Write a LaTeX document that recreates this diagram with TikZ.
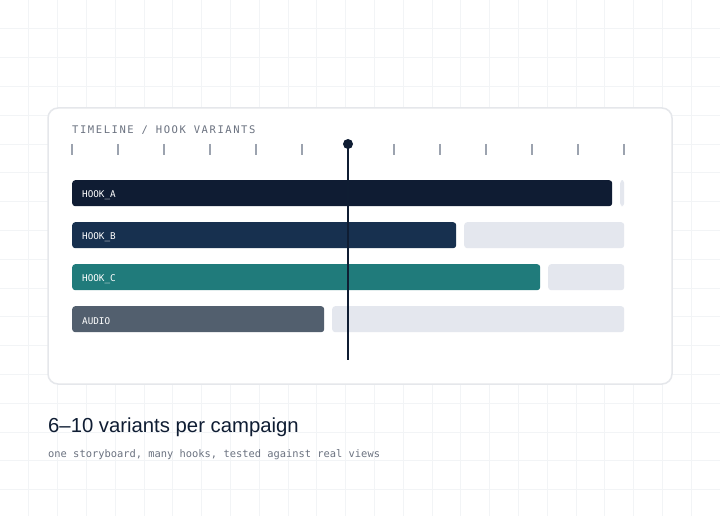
\documentclass[tikz,border=0pt]{standalone}
\usepackage{fontspec}
\setmainfont{Liberation Sans}
\newfontfamily\monofont{DejaVu Sans Mono}
\newfontfamily\trackfont[LetterSpace=15]{DejaVu Sans Mono}

\definecolor{ink}{HTML}{0F1D33}
\definecolor{hooka}{HTML}{0F1C33}
\definecolor{hookb}{HTML}{17304F}
\definecolor{hookc}{HTML}{207B7B}
\definecolor{audio}{HTML}{525F6E}
\definecolor{rest}{HTML}{E4E7EE}
\definecolor{cardline}{HTML}{E5E7EB}
\definecolor{gridc}{HTML}{F2F4F6}
\definecolor{tick}{HTML}{9CA3AF}
\definecolor{muted}{HTML}{6B7280}

\tikzset{
    bar/.style={rounded corners=3pt, minimum height=26pt, inner sep=0pt, anchor=north west},
    track/.style={bar, fill=rest},
    barlabel/.style={right, inner sep=0pt, text=white, font=\monofont\fontsize{9.3}{10}\selectfont}
}

\begin{document}
\begin{tikzpicture}[x=1pt, y=-1pt]

    \useasboundingbox [fill=white] (0,0) rectangle (720,516);

    % grid
    \foreach \g in {1,...,25} \draw [gridc, line width=0.8pt] (\g*28.8,0) -- (\g*28.8,516);
    \foreach \g in {1,...,17} \draw [gridc, line width=0.8pt] (0,\g*28.8) -- (720,\g*28.8);

    % card
    \draw [cardline, fill=white, line width=1.5pt, rounded corners=10pt] (48,108) rectangle (672,384);

    \node [anchor=base west, inner sep=0pt, text=muted, font=\trackfont\fontsize{10.5}{12}\selectfont] (title) at (72,133.5) {TIMELINE / HOOK VARIANTS};

    \foreach \x in {72,118,164,210,256,302,394,440,486,532,578,624}
        \draw [tick, line width=1.2pt] (\x,144) -- (\x,155);

    % bars
    \node [bar, fill=hooka, minimum width=540pt] (hA) at (72,180) {};
    \node [track, minimum width=4pt] (rA) at (620,180) {};
    \node [barlabel] at ([xshift=10pt, yshift=-1.5pt]hA.west) {HOOK\_A};

    \node [bar, fill=hookb, minimum width=384pt] (hB) at (72,222) {};
    \node [track, minimum width=160pt] (rB) at (464,222) {};
    \node [barlabel] at ([xshift=10pt, yshift=-1.5pt]hB.west) {HOOK\_B};

    \node [bar, fill=hookc, minimum width=468pt] (hC) at (72,264) {};
    \node [track, minimum width=76pt] (rC) at (548,264) {};
    \node [barlabel] at ([xshift=10pt, yshift=-1.5pt]hC.west) {HOOK\_C};

    \node [bar, fill=audio, minimum width=252pt] (au) at (72,306) {};
    \node [track, minimum width=292pt] (rD) at (332,306) {};
    \node [barlabel] at ([xshift=10pt, yshift=-1.5pt]au.west) {AUDIO};

    % playhead
    \node [circle, fill=ink, minimum size=10pt, inner sep=0pt] (head) at (348,144) {};
    \coordinate (foot) at (348,360);
    \draw [ink, line width=2pt] (head.center) -- (foot);

    \node [anchor=base west, inner sep=0pt, text=ink, font=\fontsize{20.3}{23}\selectfont] (headline) at (48,432) {6–10 variants per campaign};
    \node [anchor=base west, inner sep=0pt, text=muted, font=\monofont\fontsize{10.4}{12}\selectfont] (sub) at (48,457) {one storyboard, many hooks, tested against real views};

\end{tikzpicture}
\end{document}
